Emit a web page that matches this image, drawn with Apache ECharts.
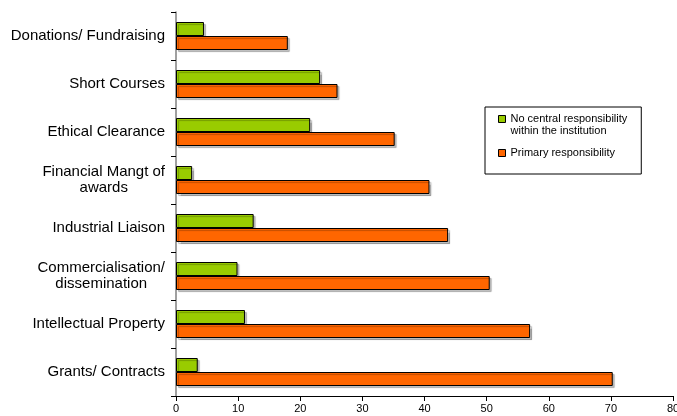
<!DOCTYPE html>
<html>
<head>
<meta charset="utf-8">
<script src="https://cdn.jsdelivr.net/npm/echarts@6/dist/echarts.min.js"></script>
<style>html,body{margin:0;padding:0;background:#fff}#c{width:677px;height:416px}</style>
</head>
<body>
<div id="c"></div>
<script>
// categories listed bottom to top
var categories = ['Grants/ Contracts', 'Intellectual Property', 'Commercialisation/\ndissemination', 'Industrial Liaison', 'Financial Mangt of\nawards', 'Ethical Clearance', 'Short Courses', 'Donations/ Fundraising'];
var seriesNames = ['No central responsibility\nwithin the institution', 'Primary responsibility'];
var noCentral = [3.5, 11.1, 9.9, 12.5, 2.6, 21.6, 23.2, 4.5];
var primary = [70.3, 57.0, 50.5, 43.8, 40.8, 35.2, 26.0, 18.0];
var xTicks = [0, 10, 20, 30, 40, 50, 60, 70, 80];

var FONT = '"Liberation Sans", Arial, sans-serif';
var chart = echarts.init(document.getElementById('c'));
var barStyle = function (color) {
  return {
    color: color, borderColor: '#000', borderWidth: 1,
    shadowColor: 'rgba(0,0,0,0.25)', shadowOffsetX: 2, shadowOffsetY: 2, shadowBlur: 1
  };
};
chart.setOption({
  animation: false,
  textStyle: { fontFamily: FONT },
  grid: { left: 176, right: 4, top: 12, bottom: 20, containLabel: false, outerBoundsMode: 'none' },
  legend: {
    orient: 'vertical', left: 485, top: 107,
    padding: [6, 14, 11, 13], itemGap: 6,
    itemWidth: 7, itemHeight: 19,
    borderColor: '#000', borderWidth: 1,
    textStyle: { fontSize: 11, color: '#000', lineHeight: 12, fontFamily: FONT },
    itemStyle: { borderColor: '#000', borderWidth: 1 },
    data: [
      { name: seriesNames[0], icon: 'path://M0,0H7V7H0Z M0,19L0,19' },
      { name: seriesNames[1], icon: 'path://M0,6H7V13H0Z M0,0L0,0 M0,19L0,19' }
    ]
  },
  xAxis: {
    type: 'value', min: xTicks[0], max: xTicks[xTicks.length - 1], interval: 10,
    splitLine: { show: false },
    axisLine: { show: true, lineStyle: { color: '#000', width: 1 } },
    axisTick: { show: true, length: 5, lineStyle: { color: '#000' } },
    axisLabel: { fontSize: 11, color: '#000', margin: 7, fontFamily: FONT, hideOverlap: false }
  },
  yAxis: {
    type: 'category', data: categories,
    axisLine: { show: true, lineStyle: { color: '#808080', width: 1.5 } },
    axisTick: { show: true, length: 5, lineStyle: { color: '#000' } },
    axisLabel: {
      margin: 11, color: '#000', fontSize: 15, fontFamily: FONT,
      formatter: function (v) {
        return v.split('\n').map(function (l) { return '{c|' + l + '}'; }).join('\n');
      },
      rich: { c: { align: 'center', fontSize: 15, lineHeight: 16, color: '#000', fontFamily: FONT } }
    }
  },
  series: [
    { name: seriesNames[0], type: 'bar', data: noCentral, barWidth: 14, barGap: '0%', itemStyle: barStyle('#99CC00') },
    { name: seriesNames[1], type: 'bar', data: primary, barWidth: 14, barGap: '0%', itemStyle: barStyle('#FF6600') }
  ]
});
</script>
</body>
</html>
